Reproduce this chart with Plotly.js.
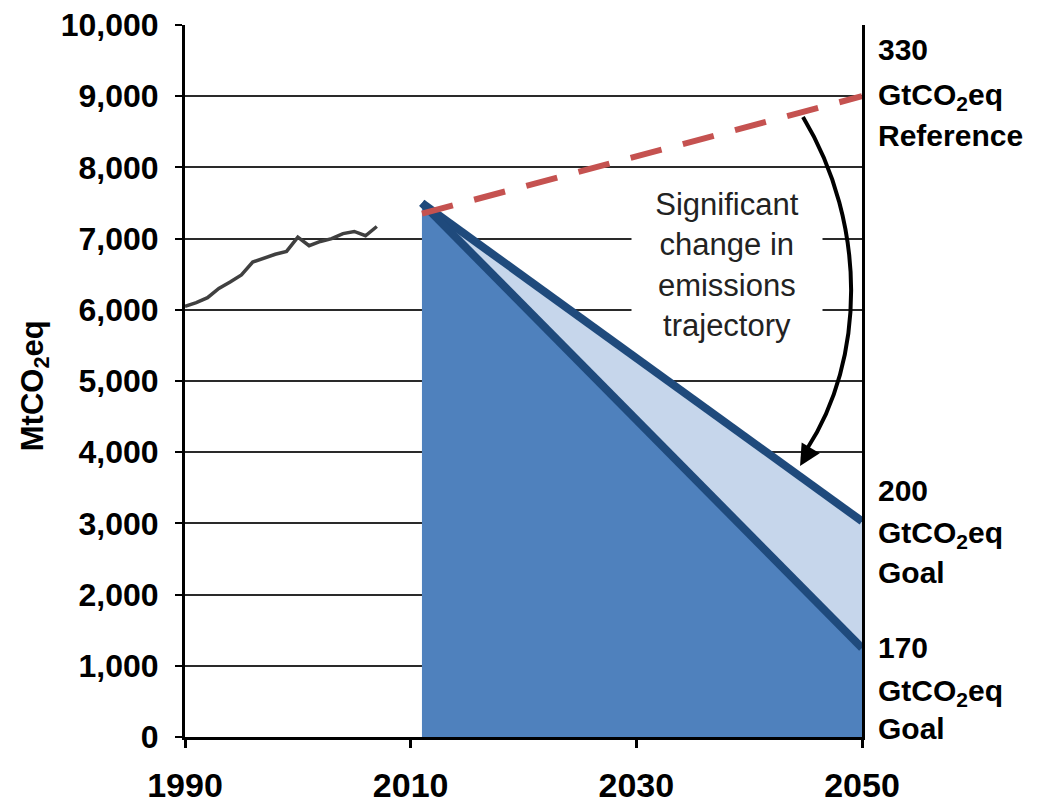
<!DOCTYPE html>
<html>
<head>
<meta charset="utf-8">
<script src="https://cdn.plot.ly/plotly-3.0.1.min.js"></script>
<style>html,body{margin:0;padding:0;background:#fff;}#chart{width:1043px;height:806px;}</style>
</head>
<body>
<div id="chart"></div>
<script>
// ---- data ----
var histYears = [1990,1991,1992,1993,1994,1995,1996,1997,1998,1999,2000,2001,2002,2003,2004,2005,2006,2007];
var histValues = [6050,6100,6170,6300,6390,6490,6670,6730,6780,6820,7020,6900,6960,7000,7070,7100,7040,7170];
var refYears = [2011, 2050];
var refValues = [7350, 9000];
var goalYears = [2011, 2050];
var goal200 = [7500, 3030];
var goal170 = [7500, 1250];
var xTickVals = [1990, 2010, 2030, 2050];
var yTickVals = [0,1000,2000,3000,4000,5000,6000,7000,8000,9000,10000];

var navy = '#1F4A7C', darkFill = '#4F81BD', lightFill = '#C6D6EB';

var traces = [
  { // dark area (below the 170 Gt path)
    x: [goalYears[0]].concat(goalYears, [goalYears[1]]),
    y: [0].concat(goal170, [0]),
    mode: 'lines', fill: 'toself', fillcolor: darkFill, line: {width: 0, color: darkFill},
    hoverinfo: 'skip', showlegend: false
  },
  { // light area between paths
    x: goalYears.concat(goalYears.slice().reverse()),
    y: goal200.concat(goal170.slice().reverse()),
    mode: 'lines', fill: 'toself', fillcolor: lightFill, line: {width: 0, color: lightFill},
    hoverinfo: 'skip', showlegend: false
  },
  {
    x: goalYears, y: goal200, mode: 'lines',
    line: {color: navy, width: 8}, showlegend: false
  },
  {
    x: goalYears, y: goal170, mode: 'lines',
    line: {color: navy, width: 8}, showlegend: false
  },
  {
    x: histYears, y: histValues, mode: 'lines',
    line: {color: '#404040', width: 3.5}, showlegend: false
  },
  {
    x: refYears, y: refValues, mode: 'lines',
    line: {color: '#C55250', width: 6, dash: '32px,22px'}, showlegend: false
  }
];

var rightFont = {family: 'Liberation Sans, Arial, sans-serif', size: 30, color: '#000', weight: 'bold'};
function rlab(text, yv) {
  return {xref: 'paper', x: 1, xanchor: 'left', xshift: 14, yref: 'y', y: yv, yanchor: 'middle',
          text: text, showarrow: false, font: rightFont, align: 'left'};
}

var layout = {
  width: 1043, height: 806,
  margin: {l: 185, r: 181, t: 25, b: 69, pad: 0},
  paper_bgcolor: '#fff', plot_bgcolor: '#fff',
  showlegend: false,
  xaxis: {
    range: [1990, 2050], tickvals: xTickVals, ticktext: xTickVals.map(String),
    ticks: 'outside', ticklen: 8, tickwidth: 3, tickcolor: '#000',
    showgrid: false, zeroline: false,
    showline: true, linewidth: 3, linecolor: '#000', mirror: false,
    ticklabelstandoff: 8,
    tickfont: {family: 'Liberation Sans, Arial, sans-serif', size: 34, color: '#000', weight: 'bold'}
  },
  yaxis: {
    range: [0, 10000], tickvals: yTickVals, tickformat: ',d',
    ticks: 'outside', ticklen: 7, tickwidth: 2, tickcolor: '#000',
    showgrid: true, gridcolor: '#2a2a2a', gridwidth: 2,
    zeroline: false,
    showline: true, linewidth: 3, linecolor: '#000', mirror: true,
    ticklabelstandoff: 10,
    tickfont: {family: 'Liberation Sans, Arial, sans-serif', size: 32, color: '#000', weight: 'bold'}
  },
  shapes: [
    {type: 'path', xref: 'x', yref: 'y',
     path: 'M2044.77,8708 C2050.53,7191 2050.27,5295 2045.12,4045',
     line: {color: '#000', width: 4}, layer: 'above'}
  ],
  annotations: [
    {xref: 'x', yref: 'y', x: 2044.51, y: 3806, ax: 10, ay: -17, axref: 'pixel', ayref: 'pixel',
     text: '', showarrow: true, arrowhead: 2, arrowsize: 1.2, arrowwidth: 3.5, arrowcolor: '#000'},
    {xref: 'x', yref: 'y', x: 2038.04, y: 6629, xanchor: 'center', yanchor: 'middle',
     text: 'Significant<br>change in<br>emissions<br>trajectory', showarrow: false,
     bgcolor: '#fff', borderpad: 5, width: 180, align: 'center',
     font: {family: 'Liberation Sans, Arial, sans-serif', size: 31, color: '#222'}},
    {xref: 'paper', x: -0.2216, xanchor: 'center', yref: 'paper', y: 0.494, yanchor: 'middle',
     text: 'MtCO<sub>2</sub>eq', textangle: -90, showarrow: false,
     font: {family: 'Liberation Sans, Arial, sans-serif', size: 31, color: '#000', weight: 'bold'}},
    rlab('330', 9649), rlab('GtCO<sub>2</sub>eq', 8990), rlab('Reference', 8455),
    rlab('200', 3469), rlab('GtCO<sub>2</sub>eq', 2850), rlab('Goal', 2317),
    rlab('170', 1264), rlab('GtCO<sub>2</sub>eq', 630), rlab('Goal', 126)
  ]
};

Plotly.newPlot('chart', traces, layout, {staticPlot: true, displayModeBar: false});
</script>
</body>
</html>
